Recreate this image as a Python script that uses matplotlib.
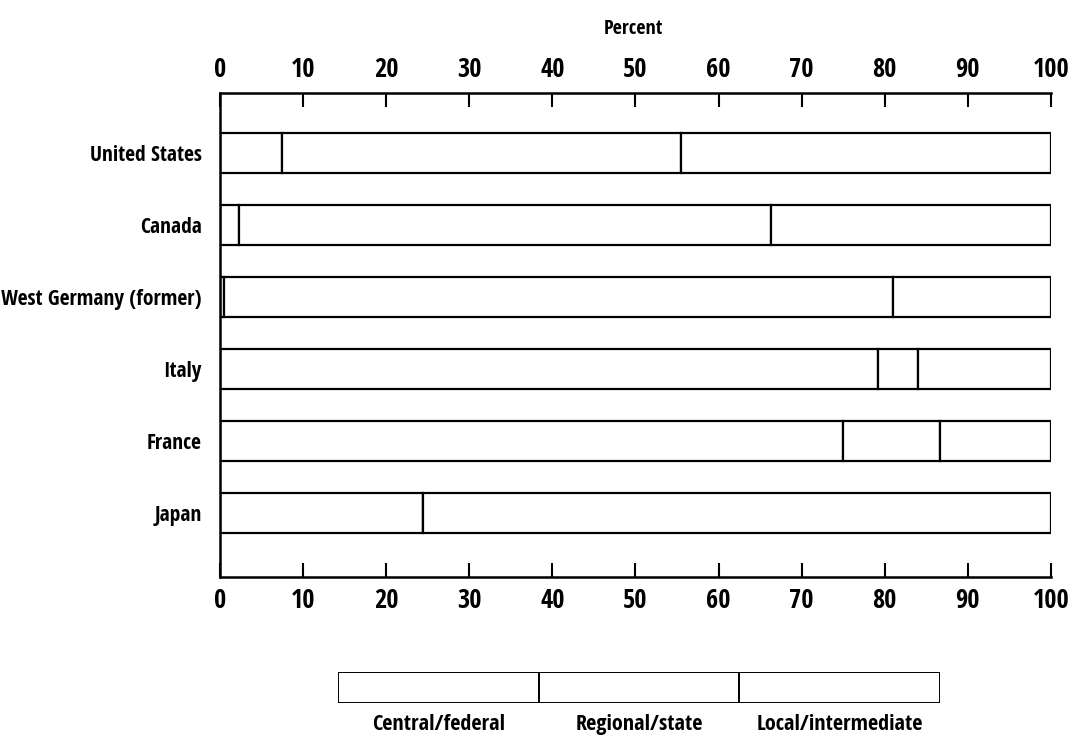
#!/usr/bin/env python3
''' Share of government spending by level, six countries '''

import numpy as np
import matplotlib
matplotlib.use('Agg')
from matplotlib import pyplot

#
# data
#

countries = ['United States', 'Canada', 'West Germany (former)',
             'Italy', 'France', 'Japan']
levels = ['Central/federal', 'Regional/state', 'Local/intermediate']

central = [7.5, 2.3, 0.5, 79.2, 75.0, 24.4]
regional = [48.0, 64.0, 80.5, 4.8, 11.6, 0.0]
local = [44.5, 33.7, 19.0, 16.0, 13.4, 75.6]

ticks = [0, 10, 20, 30, 40, 50, 60, 70, 80, 90, 100]

#
# style
#

pyplot.rcParams['font.family'] = ['Open Sans Condensed', 'DejaVu Sans']
pyplot.rcParams['font.weight'] = 'bold'

#
# main plot
#

fig = pyplot.figure(figsize=(10.71, 7.36), dpi=100)
ax = fig.add_axes([0.2054, 0.2160, 0.7759, 0.6576])

y = np.arange(len(countries))
left = np.zeros(len(countries))
for series in (central, regional, local):
    vals = np.array(series)
    ax.barh(y, vals, left=left, height=0.556, color='white',
            edgecolor='black', linewidth=1.6)
    left = left + vals

ax.set_xlim(0, 100)
ax.set_ylim(5.889, -0.833)
ax.set_xticks(ticks)
ax.set_yticks(y)
ax.set_yticklabels(countries, fontsize=15.5)

ax.spines['right'].set_visible(False)
for s in ('left', 'top', 'bottom'):
    ax.spines[s].set_linewidth(1.8)

ax.tick_params(axis='x', which='both', direction='in', length=10, width=1.5,
               labelsize=19)
ax.tick_params(axis='x', which='both', top=True, labeltop=True, pad=7)
ax.tick_params(axis='x', which='both', bottom=True, labelbottom=True)
ax.tick_params(axis='y', length=0, pad=13)

fig.text(0.5917, 0.960, 'Percent', ha='center', va='center', fontsize=14.5,
         fontweight='bold')

#
# legend strip
#

lax = fig.add_axes([0.3156, 0.0448, 0.5621, 0.0421])
for i, name in enumerate(levels):
    lax.barh(0, 1, left=i, height=1, color='white', edgecolor='black',
             linewidth=1.4)
    lax.text(i + 0.5, -1.2, name, ha='center', va='center', fontsize=16,
             fontweight='bold', clip_on=False)
lax.set_xlim(0, 3)
lax.set_ylim(-0.5, 0.5)
lax.axis('off')

fig.savefig('out.png', dpi=100)
